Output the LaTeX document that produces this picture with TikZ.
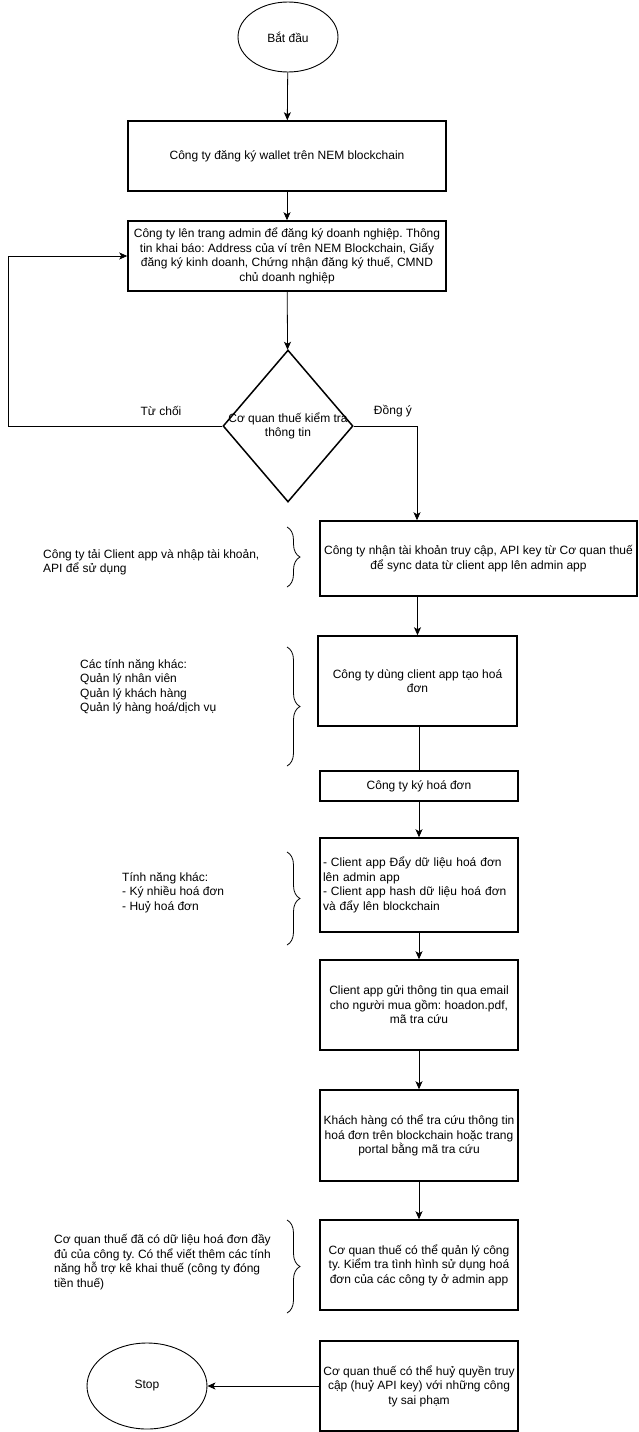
\documentclass[tikz,border=0pt]{standalone}
\usepackage{fontspec}
\setmainfont{Liberation Sans}
\usepackage{tikz}
\usetikzlibrary{positioning,arrows.meta,shapes.geometric,decorations.pathreplacing}
\frenchspacing
\newcommand{\fs}{\fontsize{12}{14.5}\selectfont}
\tikzset{
  proc/.style  ={draw=black, line width=1.5pt, rectangle, align=center,
                 font=\fs, inner sep=2pt},
  term/.style  ={draw=black, line width=0.9pt, ellipse, font=\fs, inner sep=0pt},
  dec/.style   ={draw=black, line width=1.5pt, diamond, inner sep=0pt,
                 minimum width=130pt, minimum height=152pt},
  txt/.style   ={font=\fs, align=left, inner sep=0pt},
  ar/.style    ={-{Stealth[length=8pt,width=7pt,inset=2pt]}, line width=0.8pt},
  ln/.style    ={line width=0.8pt},
  brc/.style   ={decorate, decoration={brace,amplitude=13pt}, line width=0.8pt},
}

\begin{document}
\begin{tikzpicture}[x=1pt,y=-1pt]
\useasboundingbox (0,0) rectangle (639,1432);

% main column
\node[term,minimum width=100pt,minimum height=70pt] (start) at (288,37) {Bắt đầu};
\node[proc,minimum width=318pt,minimum height=70pt] (reg) at (287,156)
   {Công ty đăng ký wallet trên NEM blockchain};
\node[proc,minimum width=318pt,minimum height=70pt] (adm) at (287,256)
   {Công ty lên trang admin để đăng ký doanh nghiệp. Thông\\
    tin khai báo: Address của ví trên NEM Blockchain, Giấy\\
    đăng ký kinh doanh, Chứng nhận đăng ký thuế, CMND\\
    chủ doanh nghiệp};
\node[dec] (chk) at (288,426) {};
\node[txt,align=center] (chktxt) at (chk) {Cơ quan thuế kiểm tra\\thông tin};

\node[proc,minimum width=317pt,minimum height=75pt] (key) at (478.5,558.5)
   {Công ty nhận tài khoản truy cập, API key từ Cơ quan thuế\\
    để sync data từ client app lên admin app};
\node[proc,minimum width=199pt,minimum height=90pt] (app) at (417.5,681)
   {Công ty dùng client app tạo hoá\\đơn};
\node[proc,minimum width=198pt,minimum height=30pt] (sign) at (419,786)
   {Công ty ký hoá đơn};
\node[proc,minimum width=198pt,minimum height=94pt,align=left,text width=192pt] (push) at (419,885)
   {- Client app Đẩy dữ liệu hoá đơn\\
    lên admin app\\
    - Client app hash dữ liệu hoá đơn\\
    và đẩy lên blockchain};
\node[proc,minimum width=198pt,minimum height=90pt] (mail) at (419,1005)
   {Client app gửi thông tin qua email\\
    cho người mua gồm: hoadon.pdf,\\
    mã tra cứu};
\node[proc,minimum width=198pt,minimum height=91pt] (look) at (419,1135.5)
   {Khách hàng có thể tra cứu thông tin\\
    hoá đơn trên blockchain hoặc trang\\
    portal bằng mã tra cứu};
\node[proc,minimum width=198pt,minimum height=90pt] (mgr) at (419,1265)
   {Cơ quan thuế có thể quản lý công\\
    ty. Kiểm tra tình hình sử dụng hoá\\
    đơn của các công ty ở admin app};
\node[proc,minimum width=198pt,minimum height=90pt] (revoke) at (419,1386)
   {Cơ quan thuế có thể huỷ quyền truy\\
    cập (huỷ API key) với những công\\
    ty sai phạm};
\node[term,minimum width=120pt,minimum height=86pt] (stop) at (147,1386) {Stop};

% side notes
\node[txt,anchor=west] (n1) at (43,562.5)
   {Công ty tải Client app và nhập tài khoản,\\API để sử dụng};
\node[txt,anchor=west] (n2) at (80,687)
   {Các tính năng khác:\\Quản lý nhân viên\\Quản lý khách hàng\\Quản lý hàng hoá/dịch vụ};
\node[txt,anchor=west] (n3) at (122,892.5)
   {Tính năng khác:\\- Ký nhiều hoá đơn\\- Huỷ hoá đơn};
\node[txt,anchor=west] (n4) at (54,1262)
   {Cơ quan thuế đã có dữ liệu hoá đơn đầy\\
    đủ của công ty. Có thể viết thêm các tính\\
    năng hỗ trợ kê khai thuế (công ty đóng\\
    tiền thuế)};

% branch labels
\node[txt] (no) at (161,411) {Từ chối};
\node[txt] (yes) at (393,411) {Đồng ý};

% braces
\draw[brc] (287,527) -- (287,587);
\draw[brc] (287,647) -- (287,766);
\draw[brc] (287,852) -- (287,945);
\draw[brc] (287,1220) -- (287,1313);

% connectors
\coordinate (back) at (8,426);
\coordinate (ok) at (417,426);
\draw[ar] (start) -- (reg);
\draw[ar] (reg) -- (adm);
\draw[ar] (adm) -- (chk);
\draw[ar] (chk.west) -- (back) |- (adm.west);
\draw[ar] (chk.east) -- (ok) -- (ok |- key.north);
\draw[ar] (app |- key.south) -- (app);
\draw[ln] (app.south -| sign) -- (sign);
\draw[ar] (sign) -- (push);
\draw[ar] (push) -- (mail);
\draw[ar] (mail) -- (look);
\draw[ar] (look) -- (mgr);
\draw[ar] (revoke) -- (stop);
\end{tikzpicture}
\end{document}
